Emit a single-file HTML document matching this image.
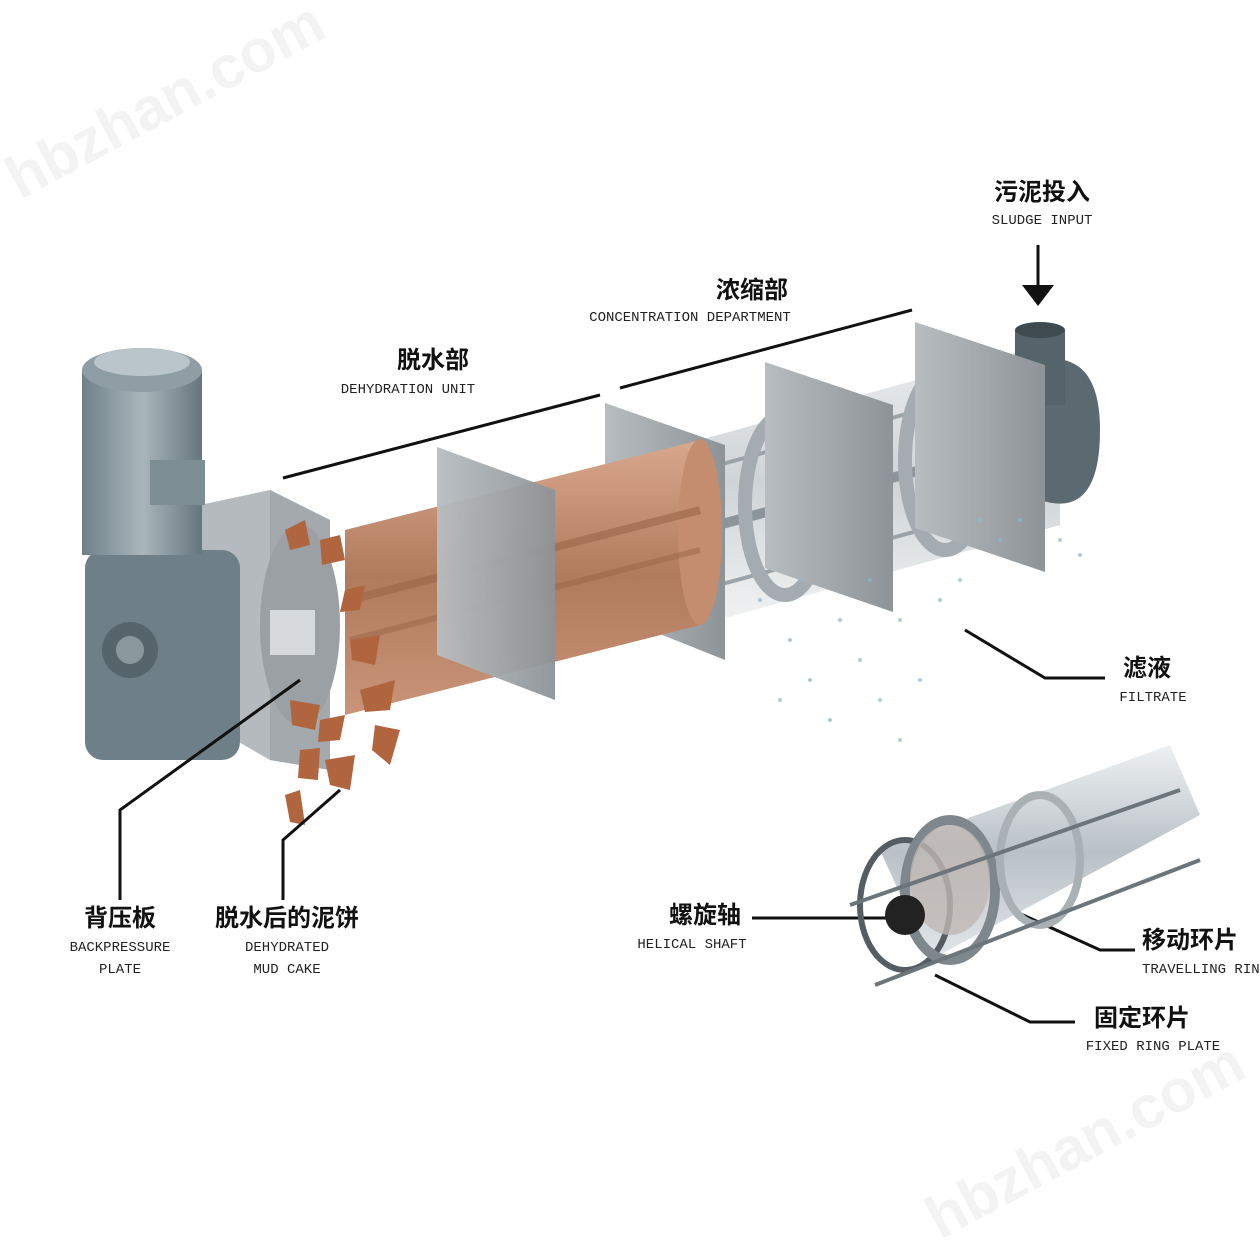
<!DOCTYPE html>
<html><head><meta charset="utf-8"><style>
html,body{margin:0;padding:0;background:#fff}
svg{display:block}
.cn{font-family:"Liberation Sans","Noto Sans CJK SC",sans-serif;font-size:24px;fill:#111;font-weight:bold}
.en{font-family:"Liberation Mono","DejaVu Sans Mono",monospace;font-size:14px;fill:#222}
.wm{font-family:"Liberation Sans",sans-serif;font-size:60px;fill:#f3f3f3;font-weight:bold}
</style></head><body>
<svg width="1260" height="1260" viewBox="0 0 1260 1260" xmlns="http://www.w3.org/2000/svg">
<defs>
<linearGradient id="mg" x1="0" x2="1"><stop offset="0" stop-color="#6f8088"/><stop offset=".5" stop-color="#a9b6bc"/><stop offset="1" stop-color="#66767e"/></linearGradient>
<linearGradient id="pl" x1="0" x2="1"><stop offset="0" stop-color="#b8bdc0"/><stop offset="1" stop-color="#8d9397"/></linearGradient>
<linearGradient id="br" x1="0" y1="0" x2="0" y2="1"><stop offset="0" stop-color="#d9a88d"/><stop offset=".5" stop-color="#b07a5c"/><stop offset="1" stop-color="#c99478"/></linearGradient>
<linearGradient id="gl" x1="0" y1="0" x2="0" y2="1"><stop offset="0" stop-color="#e6eaec"/><stop offset=".5" stop-color="#c3c9cc"/><stop offset="1" stop-color="#eef0f1"/></linearGradient>
<linearGradient id="ig" x1="0" y1="0" x2="0" y2="1"><stop offset="0" stop-color="#eef1f3"/><stop offset=".5" stop-color="#b9c1c6"/><stop offset="1" stop-color="#e3e7ea"/></linearGradient>
</defs>
<text class="wm" x="20" y="200" transform="rotate(-28 20 200)">hbzhan.com</text>
<text class="wm" x="940" y="1240" transform="rotate(-28 940 1240)">hbzhan.com</text>

<polygon points="700,440 1060,340 1060,525 700,625" fill="url(#gl)" opacity=".8"/>
<line x1="700" y1="470" x2="1050" y2="375" stroke="#9aa3a8" stroke-width="4"/>
<line x1="700" y1="590" x2="1050" y2="495" stroke="#9aa3a8" stroke-width="4"/>
<line x1="700" y1="530" x2="1050" y2="435" stroke="#8c959a" stroke-width="10"/>
<ellipse cx="785" cy="505" rx="40" ry="90" fill="none" stroke="#a4acb1" stroke-width="14"/>
<ellipse cx="945" cy="460" rx="40" ry="90" fill="none" stroke="#a4acb1" stroke-width="14"/>
<path d="M1040,360 Q1100,350 1100,430 Q1100,520 1040,500 Z" fill="#5b6a70"/>
<rect x="1015" y="330" width="50" height="75" fill="#55646a"/>
<ellipse cx="1040" cy="330" rx="25" ry="8" fill="#3e4a4f"/>

<polygon points="915,322 1045,365 1045,572 915,528" fill="url(#pl)"/>
<polygon points="765,362 893,405 893,612 765,568" fill="url(#pl)"/>
<polygon points="605,403 725,445 725,660 605,612" fill="url(#pl)"/>

<!-- water splash -->
<g fill="#8fb8cc" opacity=".7">
<circle cx="760" cy="600" r="2"/><circle cx="790" cy="640" r="2"/><circle cx="810" cy="680" r="2"/><circle cx="780" cy="700" r="2"/>
<circle cx="840" cy="620" r="2"/><circle cx="860" cy="660" r="2"/><circle cx="880" cy="700" r="2"/><circle cx="900" cy="620" r="2"/>
<circle cx="920" cy="680" r="2"/><circle cx="940" cy="600" r="2"/><circle cx="960" cy="580" r="2"/><circle cx="1000" cy="540" r="2"/>
<circle cx="1020" cy="520" r="2"/><circle cx="1060" cy="540" r="2"/><circle cx="1080" cy="555" r="2"/><circle cx="830" cy="720" r="2"/>
<circle cx="900" cy="740" r="2"/><circle cx="870" cy="580" r="2"/><circle cx="800" cy="580" r="2"/><circle cx="980" cy="520" r="2"/>
</g>

<polygon points="345,530 700,440 700,625 345,715" fill="url(#br)"/>
<ellipse cx="700" cy="532" rx="22" ry="93" fill="#c48d6f"/>
<line x1="350" y1="600" x2="700" y2="510" stroke="#9a6548" stroke-width="8" opacity=".6"/>
<line x1="350" y1="640" x2="700" y2="550" stroke="#9a6548" stroke-width="6" opacity=".5"/>
<polygon points="437,447 555,490 555,700 437,655" fill="url(#pl)" opacity=".95"/>

<polygon points="200,505 270,490 330,520 330,770 270,760 200,720" fill="#b4babd"/>
<polygon points="270,490 330,520 330,770 270,760" fill="#a3a9ac"/>
<ellipse cx="300" cy="625" rx="40" ry="100" fill="#9aa0a4"/>
<rect x="270" y="610" width="45" height="45" fill="#d6dadc"/>
<g fill="#b0653f">
<polygon points="285,530 305,520 310,545 290,550"/><polygon points="320,540 340,535 345,560 322,565"/>
<polygon points="345,590 365,585 360,610 340,612"/><polygon points="350,640 380,635 375,665 352,660"/>
<polygon points="360,690 395,680 390,710 365,712"/><polygon points="375,725 400,730 390,765 372,750"/>
<polygon points="290,700 320,705 315,730 292,725"/><polygon points="320,720 345,715 340,740 318,742"/>
<polygon points="300,750 320,748 318,780 298,778"/><polygon points="325,760 355,755 350,790 330,785"/>
<polygon points="285,795 300,790 305,825 290,822"/>
</g>

<rect x="85" y="550" width="155" height="210" rx="18" fill="#6e7f87"/>
<circle cx="130" cy="650" r="28" fill="#56656c"/><circle cx="130" cy="650" r="14" fill="#8a979d"/>
<rect x="82" y="370" width="120" height="185" fill="url(#mg)"/>
<ellipse cx="142" cy="370" rx="60" ry="22" fill="#8f9ea5"/>
<ellipse cx="142" cy="362" rx="48" ry="14" fill="#b9c5ca"/>
<rect x="150" y="460" width="55" height="45" fill="#7d8d94"/>

<g stroke="#111" stroke-width="3" fill="none">
<line x1="283" y1="478" x2="600" y2="395"/>
<line x1="620" y1="388" x2="912" y2="310"/>
<polyline points="965,630 1045,678 1105,678"/>
<polyline points="120,900 120,810 300,680"/>
<polyline points="283,900 283,840 340,790"/>
<line x1="752" y1="918" x2="900" y2="918"/>
<polyline points="990,900 1100,950 1135,950"/>
<polyline points="935,975 1030,1022 1075,1022"/>
<line x1="1038" y1="245" x2="1038" y2="290"/>
</g>
<polygon points="1022,285 1054,285 1038,306" fill="#111"/>

<polygon points="880,850 1170,745 1200,815 930,960" fill="url(#ig)"/>
<ellipse cx="905" cy="905" rx="45" ry="65" fill="none" stroke="#555d62" stroke-width="6"/>
<ellipse cx="950" cy="890" rx="45" ry="70" fill="none" stroke="#7e878c" stroke-width="10"/>
<ellipse cx="1040" cy="860" rx="40" ry="65" fill="none" stroke="#a9b1b5" stroke-width="8"/>
<ellipse cx="950" cy="880" rx="40" ry="55" fill="#bfb8b3" opacity=".8"/>
<circle cx="905" cy="915" r="20" fill="#222"/>
<line x1="850" y1="905" x2="1180" y2="790" stroke="#6c757a" stroke-width="4"/>
<line x1="875" y1="985" x2="1200" y2="860" stroke="#6c757a" stroke-width="4"/>

<g text-anchor="middle">
<text class="cn" x="1042" y="200">污泥投入</text><text class="en" x="1042" y="224">SLUDGE INPUT</text>
<text class="cn" x="752" y="298">浓缩部</text><text class="en" x="690" y="321">CONCENTRATION DEPARTMENT</text>
<text class="cn" x="433" y="368">脱水部</text><text class="en" x="408" y="393">DEHYDRATION UNIT</text>
<text class="cn" x="1147" y="676">滤液</text><text class="en" x="1153" y="701">FILTRATE</text>
<text class="cn" x="120" y="926">背压板</text><text class="en" x="120" y="951">BACKPRESSURE</text><text class="en" x="120" y="973">PLATE</text>
<text class="cn" x="287" y="926">脱水后的泥饼</text><text class="en" x="287" y="951">DEHYDRATED</text><text class="en" x="287" y="973">MUD CAKE</text>
<text class="cn" x="705" y="923">螺旋轴</text><text class="en" x="692" y="948">HELICAL SHAFT</text>
<text class="cn" x="1142" y="1026">固定环片</text><text class="en" x="1153" y="1050">FIXED RING PLATE</text>
</g>
<text class="cn" x="1142" y="948">移动环片</text><text class="en" x="1142" y="973">TRAVELLING RING</text>
</svg>
</body></html>
